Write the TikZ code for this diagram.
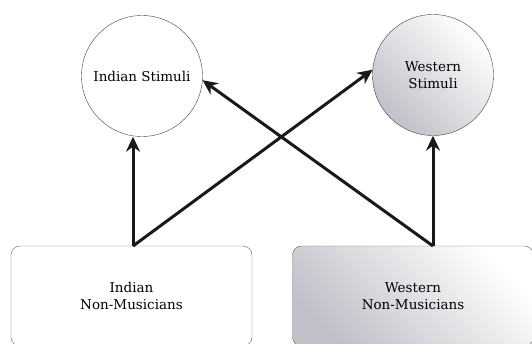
\documentclass[tikz,border=0pt]{standalone}
\usepackage{fontspec}
\setmainfont{DejaVu Serif}
\usepackage{tikz}
\usetikzlibrary{arrows.meta}

\definecolor{shadegray}{RGB}{192,193,201}

\tikzset{
    stim/.style={circle, draw=black!75, thin, minimum size=121pt, inner sep=0pt, align=center, font=\fontsize{13.5}{17}\selectfont},
    group/.style={rectangle, rounded corners=9pt, draw=black!60, thin, minimum width=241pt, minimum height=100pt, align=center, font=\fontsize{13.5}{17}\selectfont},
    greyfill/.style={shading=axis, left color=shadegray, right color=white, shading angle=135},
    link/.style={line width=3pt, black!90, -{Stealth[length=15pt, width=14pt, inset=5pt]}}
}

\begin{document}
\begin{tikzpicture}[x=1pt, y=1pt]
    \useasboundingbox (0,0) rectangle (532,343);

    % stimuli
    \node[stim] (istim) at (142,267) {Indian Stimuli};
    \node[stim, greyfill] (wstim) at (433,268) {Western\\Stimuli};

    % listeners
    \node[group] (igroup) at (131.5,47) {Indian\\Non-Musicians};
    \node[group, greyfill] (wgroup) at (413,47) {Western\\Non-Musicians};

    \coordinate (ifoot) at (133,97);
    \coordinate (wfoot) at (433,97);

    % arrows
    \draw[link] (ifoot) -- (ifoot |- istim.south);
    \draw[link] (wfoot) -- (wstim.south);
    \draw[link] (ifoot) -- (wstim.175);
    \draw[link] (wfoot) -- (istim.-4);

\end{tikzpicture}
\end{document}
